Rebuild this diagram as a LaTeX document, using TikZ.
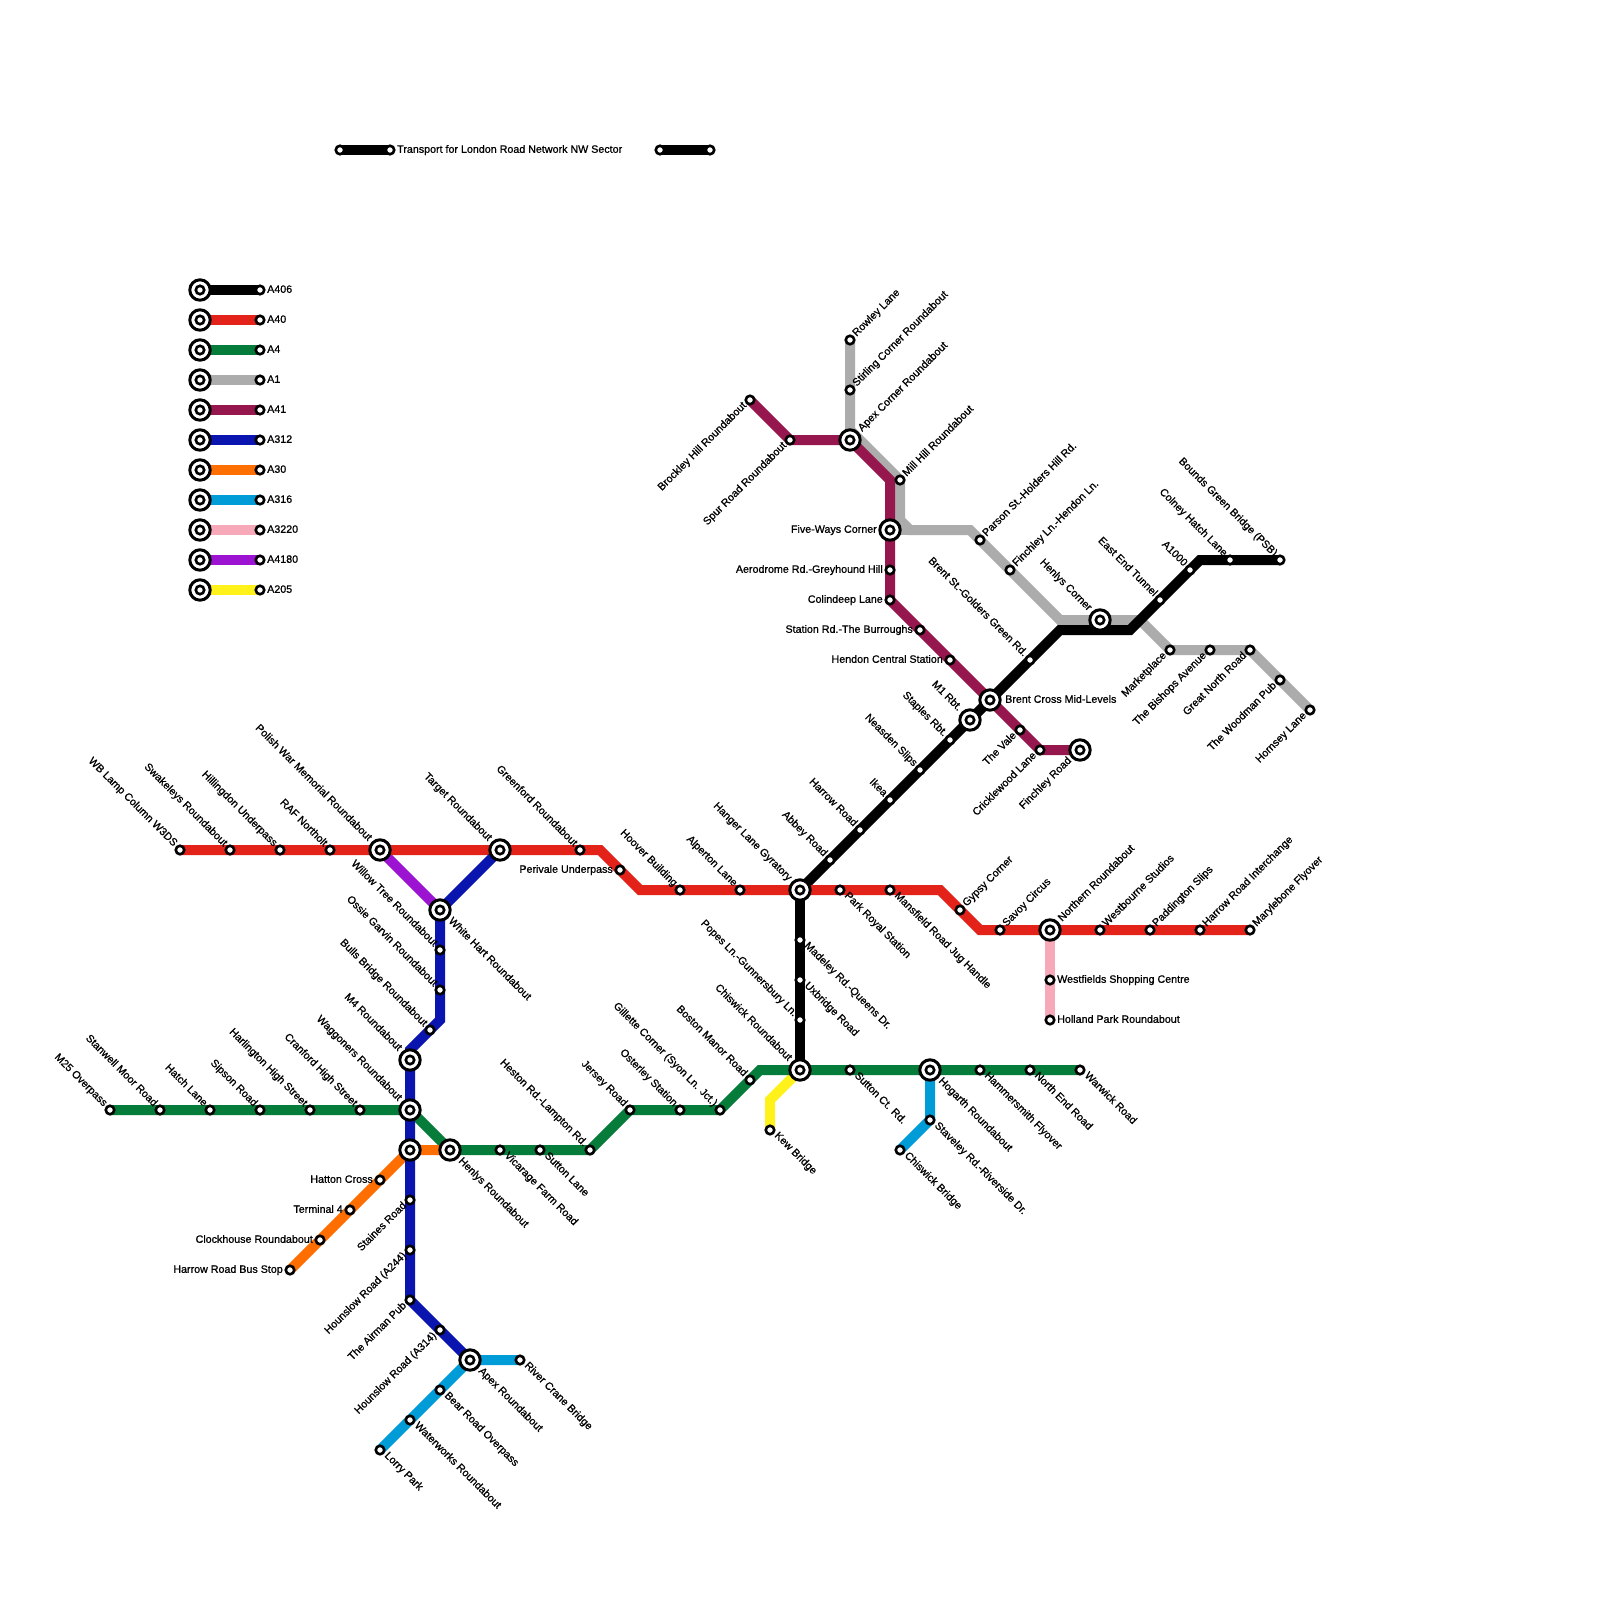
\documentclass[tikz,border=0pt]{standalone}
\usepackage{fontspec}
\setmainfont{Liberation Sans}[FakeBold=0.9]
\usetikzlibrary{backgrounds}
\definecolor{cBlack}{HTML}{000000}
\definecolor{cRed}{HTML}{E3231A}
\definecolor{cGreen}{HTML}{067C3A}
\definecolor{cGray}{HTML}{ACACAC}
\definecolor{cMaroon}{HTML}{96174D}
\definecolor{cBlue}{HTML}{0A14AE}
\definecolor{cOrange}{HTML}{FF6E00}
\definecolor{cCyan}{HTML}{009CD8}
\definecolor{cPink}{HTML}{F7A9BA}
\definecolor{cPurple}{HTML}{9C13D2}
\definecolor{cYellow}{HTML}{FFF21A}
\tikzset{
  smallst/.style={circle,draw=black,fill=white,line width=2.6pt,minimum size=8.5pt,inner sep=0pt},
  bigst/.style={circle,draw=black,fill=white,line width=3pt,minimum size=20.4pt,inner sep=0pt,
    path picture={\draw[black,line width=2.6pt] (path picture bounding box.center) circle (4.2pt);}},
  lbase/.style={inner sep=0pt,font=\fontsize{10.7}{12}\selectfont,text=black},
  labUR/.style={lbase,xshift=6.5pt,yshift=3pt,rotate=45,anchor=base west},
  labLR/.style={lbase,xshift=4pt,yshift=-6pt,rotate=-45,anchor=base west},
  labUL/.style={lbase,xshift=-6.5pt,yshift=3pt,rotate=-45,anchor=base east},
  labLL/.style={lbase,xshift=-3pt,yshift=-6pt,rotate=45,anchor=base east},
  labL/.style={lbase,xshift=-7pt,yshift=-2.8pt,anchor=base east},
  labR/.style={lbase,xshift=7pt,yshift=-2.8pt,anchor=base west},
  blabUR/.style={lbase,xshift=12pt,yshift=8pt,rotate=45,anchor=base west},
  blabLR/.style={lbase,xshift=8pt,yshift=-11.5pt,rotate=-45,anchor=base west},
  blabUL/.style={lbase,xshift=-12pt,yshift=8.5pt,rotate=-45,anchor=base east},
  blabLL/.style={lbase,xshift=-8pt,yshift=-11pt,rotate=45,anchor=base east},
  blabL/.style={lbase,xshift=-13pt,yshift=-2.8pt,anchor=base east},
  blabR/.style={lbase,xshift=15pt,yshift=-2.8pt,anchor=base west},
  road/.style={line width=10pt,line join=miter,line cap=butt},
}
\newcommand\st[5]{\node[smallst] (#1) at (#2,#3) {};\node[lab#4] (#1-l) at (#2,#3) {#5};}
\newcommand\ix[5]{\node[bigst] (#1) at (#2,#3) {};\node[blab#4] (#1-l) at (#2,#3) {#5};}
\newcommand\plain[3]{\node[smallst] (#1) at (#2,#3) {};}
\newcommand\ixp[3]{\node[bigst] (#1) at (#2,#3) {};}
\begin{document}
\begin{tikzpicture}[x=1pt,y=-1pt]
\useasboundingbox (0,0) rectangle (1600,1600);
% title bars
\plain{ta}{340}{150}
\st{tb}{390}{150}{R}{Transport for London Road Network NW Sector}
\plain{tc}{660}{150}
\plain{td}{710}{150}
% legend
\ixp{k1}{200}{290}\st{k1e}{260}{290}{R}{A406}
\ixp{k2}{200}{320}\st{k2e}{260}{320}{R}{A40}
\ixp{k3}{200}{350}\st{k3e}{260}{350}{R}{A4}
\ixp{k4}{200}{380}\st{k4e}{260}{380}{R}{A1}
\ixp{k5}{200}{410}\st{k5e}{260}{410}{R}{A41}
\ixp{k6}{200}{440}\st{k6e}{260}{440}{R}{A312}
\ixp{k7}{200}{470}\st{k7e}{260}{470}{R}{A30}
\ixp{k8}{200}{500}\st{k8e}{260}{500}{R}{A316}
\ixp{k9}{200}{530}\st{k9e}{260}{530}{R}{A3220}
\ixp{k10}{200}{560}\st{k10e}{260}{560}{R}{A4180}
\ixp{k11}{200}{590}\st{k11e}{260}{590}{R}{A205}
% A40
\st{wb}{180}{850}{UL}{WB Lamp Column W3DS}
\st{swa}{230}{850}{UL}{Swakeleys Roundabout}
\st{hil}{280}{850}{UL}{Hillingdon Underpass}
\st{raf}{330}{850}{UL}{RAF Northolt}
\ix{pol}{380}{850}{UL}{Polish War Memorial Roundabout}
\ix{tar}{500}{850}{UL}{Target Roundabout}
\st{gre}{580}{850}{UL}{Greenford Roundabout}
\st{per}{620}{870}{L}{Perivale Underpass}
\st{hoo}{680}{890}{UL}{Hoover Building}
\st{alp}{740}{890}{UL}{Alperton Lane}
\ix{han}{800}{890}{UL}{Hanger Lane Gyratory}
\st{par}{840}{890}{LR}{Park Royal Station}
\st{man}{890}{890}{LR}{Mansfield Road Jug Handle}
\st{gyp}{960}{910}{UR}{Gypsy Corner}
\st{sav}{1000}{930}{UR}{Savoy Circus}
\ix{nor}{1050}{930}{UR}{Northern Roundabout}
\st{wes}{1100}{930}{UR}{Westbourne Studios}
\st{pad}{1150}{930}{UR}{Paddington Slips}
\st{hri}{1200}{930}{UR}{Harrow Road Interchange}
\st{mar}{1250}{930}{UR}{Marylebone Flyover}
% A3220
\st{wsc}{1050}{980}{R}{Westfields Shopping Centre}
\st{hpr}{1050}{1020}{R}{Holland Park Roundabout}
% A406
\st{abb}{830}{860}{UL}{Abbey Road}
\st{hrd}{860}{830}{UL}{Harrow Road}
\st{ike}{890}{800}{UL}{Ikea}
\st{nea}{920}{770}{UL}{Neasden Slips}
\st{sta}{950}{740}{UL}{Staples Rbt.}
\ix{m1}{970}{720}{UL}{M1 Rbt.}
\ix{bcm}{990}{700}{R}{Brent Cross Mid-Levels}
\st{bst}{1030}{660}{UL}{Brent St.-Golders Green Rd.}
\ix{hcn}{1100}{620}{UL}{Henlys Corner}
\st{eet}{1160}{600}{UL}{East End Tunnel}
\st{a1k}{1190}{570}{UL}{A1000}
\st{col}{1230}{560}{UL}{Colney Hatch Lane}
\st{bou}{1280}{560}{UL}{Bounds Green Bridge (PSB)}
\st{mad}{800}{940}{LR}{Madeley Rd.-Queens Dr.}
\st{uxb}{800}{980}{LR}{Uxbridge Road}
\st{pop}{800}{1020}{UL}{Popes Ln.-Gunnersbury Ln.}
% A4
\st{m25}{110}{1110}{UL}{M25 Overpass}
\st{stn}{160}{1110}{UL}{Stanwell Moor Road}
\st{hat}{210}{1110}{UL}{Hatch Lane}
\st{sip}{260}{1110}{UL}{Sipson Road}
\st{har}{310}{1110}{UL}{Harlington High Street}
\st{cra}{360}{1110}{UL}{Cranford High Street}
\ix{wag}{410}{1110}{UL}{Waggoners Roundabout}
\ix{hen}{450}{1150}{LR}{Henlys Roundabout}
\st{vic}{500}{1150}{LR}{Vicarage Farm Road}
\st{sut}{540}{1150}{LR}{Sutton Lane}
\st{hes}{590}{1150}{UL}{Heston Rd.-Lampton Rd.}
\st{jer}{630}{1110}{UL}{Jersey Road}
\st{ost}{680}{1110}{UL}{Osterley Station}
\st{gil}{720}{1110}{UL}{Gillette Corner (Syon Ln. Jct.)}
\st{bos}{750}{1080}{UL}{Boston Manor Road}
\ix{chi}{800}{1070}{UL}{Chiswick Roundabout}
\st{sct}{850}{1070}{LR}{Sutton Ct. Rd.}
\ix{hog}{930}{1070}{LR}{Hogarth Roundabout}
\st{ham}{980}{1070}{LR}{Hammersmith Flyover}
\st{nen}{1030}{1070}{LR}{North End Road}
\st{war}{1080}{1070}{LR}{Warwick Road}
% A205, A316 east
\st{kew}{770}{1130}{LR}{Kew Bridge}
\st{stv}{930}{1120}{LR}{Staveley Rd.-Riverside Dr.}
\st{cbr}{900}{1150}{LR}{Chiswick Bridge}
% A1
\st{row}{850}{340}{UR}{Rowley Lane}
\st{sti}{850}{390}{UR}{Stirling Corner Roundabout}
\ix{apx}{850}{440}{UR}{Apex Corner Roundabout}
\st{mil}{900}{480}{UR}{Mill Hill Roundabout}
\st{prs}{980}{540}{UR}{Parson St.-Holders Hill Rd.}
\st{fin}{1010}{570}{UR}{Finchley Ln.-Hendon Ln.}
\st{mkt}{1170}{650}{LL}{Marketplace}
\st{bis}{1210}{650}{LL}{The Bishops Avenue}
\st{gnr}{1250}{650}{LL}{Great North Road}
\st{woo}{1280}{680}{LL}{The Woodman Pub}
\st{hor}{1310}{710}{LL}{Hornsey Lane}
% A41
\st{bro}{750}{400}{LL}{Brockley Hill Roundabout}
\st{spu}{790}{440}{LL}{Spur Road Roundabout}
\ix{fiv}{890}{530}{L}{Five-Ways Corner}
\st{aer}{890}{570}{L}{Aerodrome Rd.-Greyhound Hill}
\st{cdp}{890}{600}{L}{Colindeep Lane}
\st{srd}{920}{630}{L}{Station Rd.-The Burroughs}
\st{hcs}{950}{660}{L}{Hendon Central Station}
\st{val}{1020}{730}{LL}{The Vale}
\st{cri}{1040}{750}{LL}{Cricklewood Lane}
\ix{fro}{1080}{750}{LL}{Finchley Road}
% A312
\ix{whr}{440}{910}{LR}{White Hart Roundabout}
\st{wil}{440}{950}{UL}{Willow Tree Roundabout}
\st{oss}{440}{990}{UL}{Ossie Garvin Roundabout}
\st{bul}{430}{1030}{UL}{Bulls Bridge Roundabout}
\ix{m4}{410}{1060}{UL}{M4 Roundabout}
\ixp{hax}{410}{1150}
\st{sta2}{410}{1200}{LL}{Staines Road}
\st{h244}{410}{1250}{LL}{Hounslow Road (A244)}
\st{air}{410}{1300}{LL}{The Airman Pub}
\st{h314}{440}{1330}{LL}{Hounslow Road (A314)}
\ix{apr}{470}{1360}{LR}{Apex Roundabout}
% A30
\st{hcr}{380}{1180}{L}{Hatton Cross}
\st{t4}{350}{1210}{L}{Terminal 4}
\st{clo}{320}{1240}{L}{Clockhouse Roundabout}
\st{hbs}{290}{1270}{L}{Harrow Road Bus Stop}
% A316
\st{riv}{520}{1360}{LR}{River Crane Bridge}
\st{bea}{440}{1390}{LR}{Bear Road Overpass}
\st{wat}{410}{1420}{LR}{Waterworks Roundabout}
\st{lor}{380}{1450}{LR}{Lorry Park}
% corner points
\coordinate (g1) at (850,430);
\coordinate (g2) at (900,520);
\coordinate (g3) at (910,530);
\coordinate (g4) at (970,530);
\coordinate (g5) at (1060,620);
\coordinate (g6) at (1140,620);
\coordinate (m1c) at (890,480);
\coordinate (r1) at (600,850);
\coordinate (r2) at (640,890);
\coordinate (r3) at (940,890);
\coordinate (r4) at (980,930);
\coordinate (b1) at (1060,630);
\coordinate (b2) at (1130,630);
\coordinate (b3) at (1200,560);
\coordinate (gr1) at (760,1070);
\coordinate (y1) at (770,1100);
\coordinate (bl1) at (440,1020);
\coordinate (bl2) at (410,1050);
\begin{pgfonlayer}{background}
\fill[white] (0,0) rectangle (1600,1600);
% title bars and legend
\draw[road,black] (ta.center) -- (tb.center);
\draw[road,black] (tc.center) -- (td.center);
\draw[road,black] (k1.center) -- (k1e.center);
\draw[road,cRed] (k2.center) -- (k2e.center);
\draw[road,cGreen] (k3.center) -- (k3e.center);
\draw[road,cGray] (k4.center) -- (k4e.center);
\draw[road,cMaroon] (k5.center) -- (k5e.center);
\draw[road,cBlue] (k6.center) -- (k6e.center);
\draw[road,cOrange] (k7.center) -- (k7e.center);
\draw[road,cCyan] (k8.center) -- (k8e.center);
\draw[road,cPink] (k9.center) -- (k9e.center);
\draw[road,cPurple] (k10.center) -- (k10e.center);
\draw[road,cYellow] (k11.center) -- (k11e.center);
% network
\draw[road,cYellow] (chi.center) -- (y1) -- (kew.center);
\draw[road,cPink] (nor.center) -- (hpr.center);
\draw[road,cPurple] (pol.center) -- (whr.center);
\draw[road,cGray] (row.center) -- (g1) -- (mil.center) -- (g2) -- (g3) -- (g4) -- (g5) -- (g6) -- (mkt.center) -- (gnr.center) -- (hor.center);
\draw[road,cGray] (fiv.center) -- (g3);
\draw[road,cMaroon] (bro.center) -- (spu.center) -- (apx.center) -- (m1c) -- (cdp.center) -- (bcm.center) -- (cri.center) -- (fro.center);
\draw[road,black] (bou.center) -- (b3) -- (b2) -- (b1) -- (han.center);
\draw[road,black] (han.center) -- (chi.center);
\draw[road,cRed] (wb.center) -- (r1) -- (r2) -- (r3) -- (r4) -- (mar.center);
\draw[road,cGreen] (m25.center) -- (wag.center) -- (hen.center) -- (hes.center) -- (jer.center) -- (gil.center) -- (gr1) -- (war.center);
\draw[road,cCyan] (hog.center) -- (stv.center) -- (cbr.center);
\draw[road,cOrange] (hen.center) -- (hax.center) -- (hbs.center);
\draw[road,cCyan] (riv.center) -- (apr.center) -- (lor.center);
\draw[road,cBlue] (tar.center) -- (whr.center) -- (bl1) -- (bl2) -- (air.center) -- (apr.center);
\end{pgfonlayer}
\end{tikzpicture}
\end{document}
